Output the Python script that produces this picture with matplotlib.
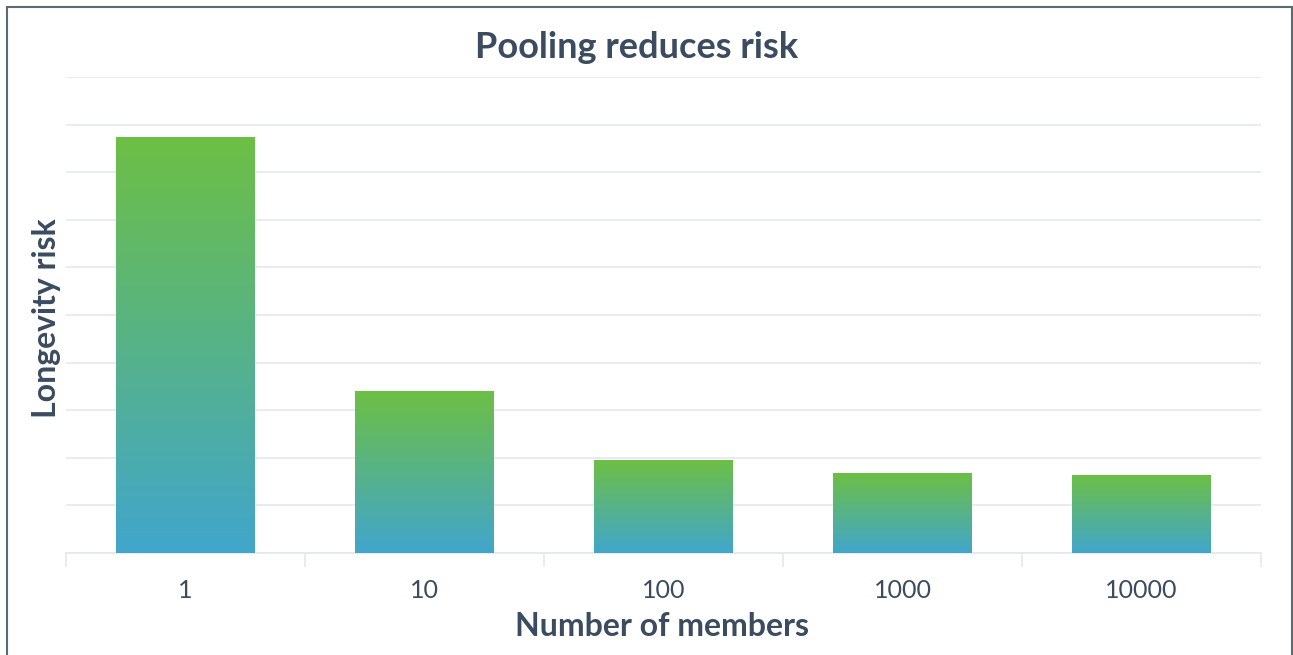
import numpy as np
import matplotlib.pyplot as plt
from matplotlib.colors import LinearSegmentedColormap
from matplotlib.patches import Rectangle

members = ["1", "10", "100", "1000", "10000"]
longevity_risk = [8.74, 3.40, 1.95, 1.68, 1.64]

text_color = "#3b4b60"
grid_color = "#e4e8ef"
green = "#6dbf44"
blue = "#41a6cc"

plt.rcParams["font.family"] = ["Lato", "DejaVu Sans"]

W, H = 1293, 655
fig = plt.figure(figsize=(W / 100, H / 100), dpi=100)
ax = fig.add_axes([66 / W, 1 - 553 / H, (1261 - 66) / W, (553 - 77) / H])

cmap = LinearSegmentedColormap.from_list("pool", [blue, green])
grad = np.linspace(0, 1, 256).reshape(-1, 1)
bar_width = 0.58

x = np.arange(len(members))
bars = ax.bar(x, longevity_risk, width=bar_width, color="none", zorder=3)
for rect, val in zip(bars, longevity_risk):
    x0 = rect.get_x()
    im = ax.imshow(grad, cmap=cmap, origin="lower", aspect="auto",
                   extent=[x0, x0 + rect.get_width(), 0, val], zorder=3)
    im.set_clip_path(rect)

ax.set_xlim(-0.5, len(members) - 0.5)
ax.set_ylim(0, 10)
ax.set_yticks(np.arange(0, 11, 1))
ax.set_yticklabels([])
ax.tick_params(axis="y", length=0)
ax.grid(axis="y", color=grid_color, linewidth=1.2, zorder=0)
ax.set_axisbelow(True)

ax.set_xticks(x)
ax.set_xticklabels(members, fontsize=18, color=text_color)
ax.tick_params(axis="x", which="major", length=0, pad=19)
ax.set_xticks(np.arange(-0.5, len(members), 1), minor=True)
ax.tick_params(axis="x", which="minor", length=10, color=grid_color, width=1.2)

for side in ["top", "right", "left"]:
    ax.spines[side].set_visible(False)
ax.spines["bottom"].set_color(grid_color)
ax.spines["bottom"].set_linewidth(1.2)

ax.set_xlabel("Number of members", fontsize=23, fontweight="bold",
              color=text_color, va="center")
ax.xaxis.set_label_coords(662 / W, 1 - 626 / H, transform=fig.transFigure)
ax.set_ylabel("Longevity risk", fontsize=23, fontweight="bold",
              color=text_color, va="center")
ax.yaxis.set_label_coords(47 / W, 1 - 318 / H, transform=fig.transFigure)
fig.text(637 / W, 1 - 47 / H, "Pooling reduces risk", fontsize=26,
         fontweight="bold", color=text_color, ha="center", va="center")

fig.patches.append(Rectangle((7 / W, -0.05), (1292 - 7) / W, 1.05 - 7 / H,
                             transform=fig.transFigure, fill=False,
                             edgecolor="#5b6b72", linewidth=1.5))

fig.savefig("out.png", dpi=100, facecolor="white")
